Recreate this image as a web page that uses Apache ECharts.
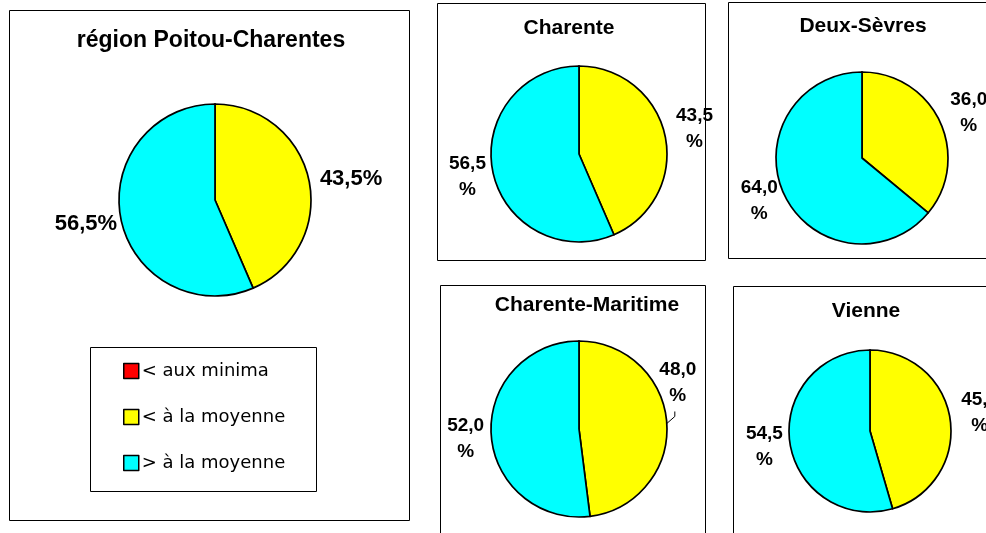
<!DOCTYPE html>
<html>
<head>
<meta charset="utf-8">
<script src="https://cdn.jsdelivr.net/npm/echarts@6/dist/echarts.min.js"></script>
<style>html,body{margin:0;padding:0;background:#fff}#c{width:986px;height:533px}</style>
</head>
<body>
<div id="c"></div>
<script>
// ---- data ----
const categories = ['< aux minima', '< à la moyenne', '> à la moyenne'];
const titles = ['région Poitou-Charentes', 'Charente', 'Deux-Sèvres', 'Charente-Maritime', 'Vienne'];
const auxMinima   = [0, 0, 0, 0, 0];
const sousMoyenne = [43.5, 43.5, 36.0, 48.0, 45.5];
const surMoyenne  = [56.5, 56.5, 64.0, 52.0, 54.5];

// ---- layout (styling only) ----
const FONT = 'Liberation Sans';
const LEGFONT = 'DejaVu Sans';
const pies = [
  {center: [215, 200], radius: 96, big: true},
  {center: [579, 154], radius: 88},
  {center: [862, 158], radius: 86},
  {center: [579, 429], radius: 88, raise: true},
  {center: [870, 431], radius: 81}
];
const panels = [
  {x: 9,   y: 10,  w: 400, h: 510, tx: 211, ty: 41,  fs: 23},
  {x: 437, y: 3,   w: 268, h: 257, tx: 569, ty: 28,  fs: 21},
  {x: 728, y: 2,   w: 300, h: 256, tx: 863, ty: 26,  fs: 21},
  {x: 440, y: 285, w: 265, h: 300, tx: 587, ty: 305, fs: 21},
  {x: 733, y: 286, w: 300, h: 300, tx: 866, ty: 311, fs: 21}
];

const fmt = v => v.toFixed(1).replace('.', ',');

const series = pies.map((p, i) => ({
  type: 'pie',
  center: p.center,
  radius: p.radius,
  startAngle: 90,
  clockwise: true,
  avoidLabelOverlap: false,
  animation: false,
  silent: true,
  itemStyle: {borderColor: '#000', borderWidth: 1.7},
  label: {
    show: true,
    position: 'outside',
    fontFamily: FONT,
    fontWeight: 'bold',
    fontSize: p.big ? 22 : 19,
    lineHeight: p.big ? 24 : 26,
    color: '#000',
    formatter: q => q.value ? (fmt(q.value) + (p.big ? '%' : '\n%')) : ''
  },
  labelLine: {show: false, length: 6, length2: 0, lineStyle: {color: '#000', width: 1}},
  labelLayout: function (prm) {
    if (p.big) {
      return prm.dataIndex === 1 ? {dx: 0, dy: 0} : {dx: 7, dy: 3};
    }
    const w = prm.labelRect.width;
    if (prm.dataIndex === 1) {
      if (p.raise && prm.labelLinePoints) {
        const a = prm.labelLinePoints[0];
        return {align: 'center', dx: -2, dy: -40,
          labelLinePoints: [[a[0], a[1]], [a[0] + 8, a[1] - 7], [a[0] + 8, a[1] - 12]]};
      }
      return {align: 'center', dx: w / 2, dy: -6};
    }
    return {align: 'center', dx: -w / 2 + 4, dy: 4};
  },
  data: [
    {name: categories[0], value: auxMinima[i]},
    {name: categories[1], value: sousMoyenne[i], labelLine: (p.raise ? {show: true, length: 8, length2: 0} : undefined)},
    {name: categories[2], value: surMoyenne[i]}
  ]
}));

const graphic = [];
panels.forEach((pn, i) => {
  graphic.push({type: 'rect', z: 100, shape: {x: pn.x + 0.5, y: pn.y + 0.5, width: pn.w, height: pn.h},
    style: {fill: 'none', stroke: '#000', lineWidth: 1}});
  graphic.push({type: 'text', z: 100, x: pn.tx, y: pn.ty,
    style: {text: titles[i], fill: '#000', font: 'bold ' + pn.fs + 'px "' + FONT + '"', textAlign: 'center', textVerticalAlign: 'middle'}});
});
// legend frame
graphic.push({type: 'rect', z: 100, shape: {x: 90.5, y: 347.5, width: 226, height: 144},
  style: {fill: 'none', stroke: '#000', lineWidth: 1}});

const chart = echarts.init(document.getElementById('c'), null, {renderer: 'canvas'});
chart.setOption({
  backgroundColor: '#fff',
  color: ['#FF0000', '#FFFF00', '#00FFFF'],
  animation: false,
  legend: {
    orient: 'vertical',
    left: 118,
    top: 357,
    itemWidth: 15,
    itemHeight: 15,
    itemGap: 28,
    icon: 'rect',
    selectedMode: false,
    data: categories,
    itemStyle: {borderColor: '#000', borderWidth: 1.5},
    textStyle: {fontFamily: LEGFONT, fontSize: 18, color: '#000', padding: [0, 0, 0, -2]}
  },
  graphic: graphic,
  series: series
});
</script>
</body>
</html>
